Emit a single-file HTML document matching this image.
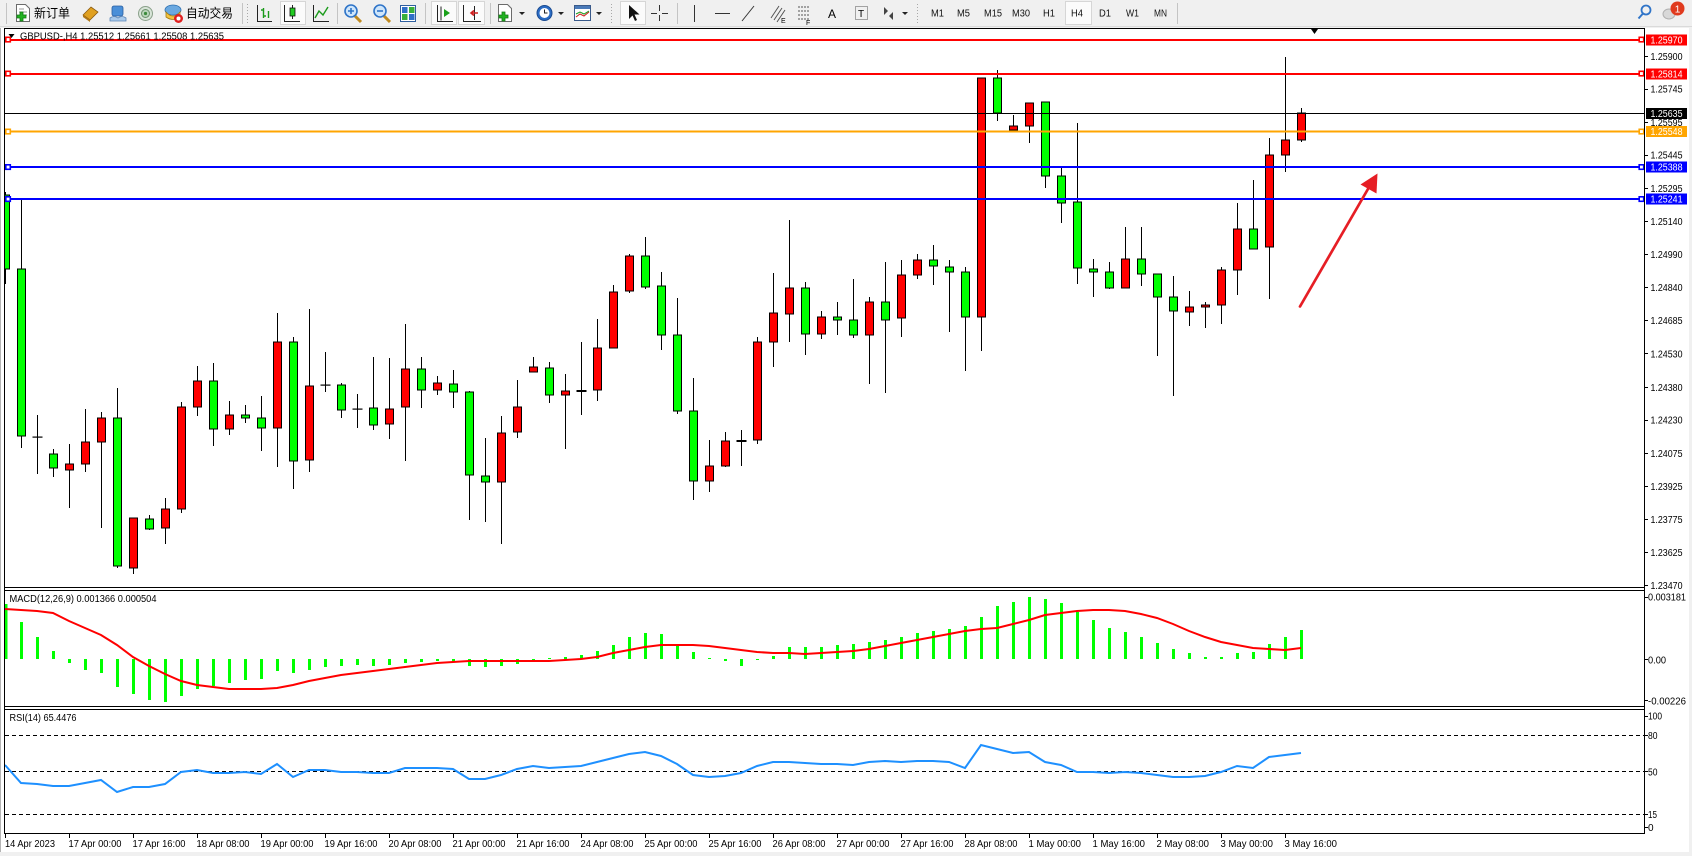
<!DOCTYPE html>
<html><head><meta charset="utf-8">
<style>
html,body{margin:0;padding:0;background:#f0f0f0;overflow:hidden;}
svg{display:block;}
text{font-family:"Liberation Sans","Noto Sans CJK SC",sans-serif;}
</style></head><body>
<svg width="1692" height="856" viewBox="0 0 1692 856" xmlns="http://www.w3.org/2000/svg">
<rect width="1692" height="856" fill="#f0f0f0"/>

<!-- ============ TOOLBAR ============ -->
<line x1="0" y1="26.5" x2="1692" y2="26.5" stroke="#dadada"/>
<g stroke="#c4c4c4">
<line x1="6.5" y1="3" x2="6.5" y2="24"/>
<line x1="242.5" y1="3" x2="242.5" y2="24"/>
<line x1="337.5" y1="3" x2="337.5" y2="24"/>
<line x1="425.5" y1="3" x2="425.5" y2="24"/>
<line x1="490.5" y1="3" x2="490.5" y2="24"/>
<line x1="677.5" y1="3" x2="677.5" y2="24"/>
<line x1="1177.5" y1="3" x2="1177.5" y2="24"/>
</g>
<g stroke="#a8a8a8" stroke-dasharray="1 2">
<line x1="247.5" y1="4" x2="247.5" y2="24"/>
<line x1="611.5" y1="4" x2="611.5" y2="24"/>
<line x1="917.5" y1="4" x2="917.5" y2="24"/>
</g>
<!-- pressed buttons -->
<g fill="#fbfbfb" stroke="#d6d6d6">
<rect x="280.5" y="1.5" width="25" height="23"/>
<rect x="431.5" y="1.5" width="25" height="23"/>
<rect x="458.5" y="1.5" width="26" height="23"/>
<rect x="620.5" y="1.5" width="25" height="23"/>
<rect x="1065.5" y="1.5" width="26" height="23"/>
</g>
<!-- new order -->
<path d="M16.5 4.5h9l4 4v13h-13z" fill="#fff" stroke="#6b6b6b"/>
<path d="M19 9h5M19 12h8M19 15h8" stroke="#9a9a9a"/>
<path d="M17 15h3v-3h3v3h3v3h-3v3h-3v-3h-3z" fill="#22b322" stroke="#157a15" stroke-width=".8"/>
<text x="34" y="17.5" font-size="12.5" textLength="36" lengthAdjust="spacingAndGlyphs">新订单</text>
<!-- gold -->
<path d="M83 15l8-8 7 5-8 8z" fill="#e0a020" stroke="#8a5a10" stroke-width=".8"/>
<path d="M83 15l7 5v2l-7-5z" fill="#b07818"/>
<!-- people/db -->
<rect x="112" y="6" width="11" height="10" rx="2" fill="#4a8fd8" stroke="#2b5fa0" stroke-width=".8"/>
<path d="M110 18q4-3 8 0q4-3 8 0v3h-16z" fill="#a9c9ea" stroke="#5b86b8" stroke-width=".8"/>
<!-- signals -->
<circle cx="145.5" cy="13.5" r="7" fill="#d8e4d8" stroke="#8aa08a"/>
<circle cx="145.5" cy="13.5" r="4" fill="#b8d4b8" stroke="#6b906b"/>
<circle cx="145.5" cy="13.5" r="1.6" fill="#3a8a3a"/>
<!-- auto trading -->
<ellipse cx="173" cy="10" rx="8" ry="5" fill="#6aa8e0" stroke="#2d6fb0" stroke-width=".8"/>
<path d="M166 12q7 8 14 0v5q-7 5-14 0z" fill="#f4c340" stroke="#a67c10" stroke-width=".8"/>
<circle cx="178.5" cy="18.5" r="4.5" fill="#e02020"/>
<circle cx="178.5" cy="18.5" r="2" fill="#fff"/>
<text x="186" y="17.5" font-size="12.5" textLength="47" lengthAdjust="spacingAndGlyphs">自动交易</text>
<!-- bar chart -->
<path d="M257.5 5v16.5H272" stroke="#222" fill="none"/>
<path d="M263.5 8v10M261 10h2.5M263.5 16h2.5M268.5 11v7" stroke="#1a9a1a" stroke-width="1.4" fill="none"/>
<!-- candle -->
<path d="M284.5 5v16.5H300" stroke="#222" fill="none"/>
<path d="M292.5 5v14" stroke="#222"/>
<rect x="290" y="8" width="5" height="8" fill="#22cc22" stroke="#111" stroke-width=".8"/>
<!-- line chart -->
<path d="M313.5 5v16.5H329" stroke="#222" fill="none"/>
<path d="M315 18l4-7 4 4 5-8" stroke="#1a9a1a" stroke-width="1.4" fill="none"/>
<!-- zoom in/out -->
<g>
<path d="M355 16l6 6" stroke="#c08a20" stroke-width="3"/>
<circle cx="351" cy="11" r="6" fill="#cfe6fb" stroke="#2f74c8" stroke-width="1.6"/>
<path d="M348 11h6M351 8v6" stroke="#2f74c8" stroke-width="1.6"/>
<path d="M384 16l6 6" stroke="#c08a20" stroke-width="3"/>
<circle cx="380" cy="11" r="6" fill="#cfe6fb" stroke="#2f74c8" stroke-width="1.6"/>
<path d="M377 11h6" stroke="#2f74c8" stroke-width="1.6"/>
</g>
<!-- tile -->
<rect x="400.5" y="5.5" width="15" height="16" fill="#fff" stroke="#2f5fa0"/>
<rect x="402" y="7" width="5.5" height="6" fill="#2f6fc8"/><rect x="409" y="7" width="5.5" height="6" fill="#3ab03a"/>
<rect x="402" y="14" width="5.5" height="6" fill="#3ab03a"/><rect x="409" y="14" width="5.5" height="6" fill="#2f6fc8"/>
<!-- autoscroll -->
<path d="M437.5 5v16.5H453" stroke="#222" fill="none"/>
<path d="M441 6.5v14" stroke="#222"/>
<path d="M444 9l6 4-6 4z" fill="#1aa01a"/>
<!-- chart shift -->
<path d="M463.5 5v16.5H481" stroke="#222" fill="none"/>
<path d="M474.5 6v14" stroke="#222"/>
<path d="M478 13h-6M474 10.5l-3 2.5 3 2.5" stroke="#d02020" stroke-width="1.6" fill="none"/>
<!-- indicators -->
<path d="M498.5 4.5h9l4 4v13h-13z" fill="#fff" stroke="#6b6b6b"/>
<path d="M499 15h3v-3h3v3h3v3h-3v3h-3v-3h-3z" fill="#22b322" stroke="#157a15" stroke-width=".8"/>
<path d="M519 12h6l-3 3z" fill="#222"/>
<!-- clock -->
<circle cx="544.5" cy="13" r="7.5" fill="#2b6cc4" stroke="#1a4a90"/>
<circle cx="544.5" cy="13" r="5" fill="#fff"/>
<path d="M544.5 9.5v3.5h3" stroke="#222" fill="none"/>
<path d="M558 12h6l-3 3z" fill="#222"/>
<!-- template -->
<rect x="574.5" y="5.5" width="16" height="15" fill="#fff" stroke="#3a5a8a"/>
<rect x="575" y="6" width="15" height="3" fill="#4a7ab8"/>
<path d="M576 17l4-3 4 2 5-4" stroke="#d02020" fill="none"/>
<path d="M576 14l4-2 4 2 5-3" stroke="#1a9a1a" fill="none"/>
<path d="M596 12h6l-3 3z" fill="#222"/>
<path d="M600 12h-0" stroke="none"/>
<!-- cursor -->
<path d="M629 5v14l3.5-3.5 2.5 5.5 2-1-2.5-5.5h5z" fill="#111"/>
<!-- crosshair -->
<path d="M659.5 5v6M659.5 15v6M651 13.5h6M662 13.5h6" stroke="#333"/>
<!-- vertical / horizontal / trend -->
<path d="M694.5 5v17" stroke="#333"/>
<path d="M715 13.5h15" stroke="#333"/>
<path d="M742 21l12-15" stroke="#333"/>
<!-- fib channel -->
<path d="M771 18l8-12M774 20l8-12M777 22l8-12" stroke="#555"/>
<text x="781" y="23" font-size="7">E</text>
<!-- fib levels -->
<path d="M798 7h12M798 11h12M798 15h12M798 19h12" stroke="#555" stroke-dasharray="2 1"/>
<text x="806" y="25" font-size="7">F</text>
<!-- A -->
<text x="828" y="18" font-size="12">A</text>
<!-- T label -->
<rect x="855.5" y="6.5" width="12" height="13" fill="none" stroke="#555" stroke-dasharray="1 1"/>
<text x="858" y="17" font-size="10">T</text>
<!-- arrows -->
<path d="M884 7l4 4-4 4zM893 12l-4 4 4 4z" fill="#444"/>
<path d="M902 12h6l-3 3z" fill="#222"/>
<!-- timeframes -->
<g font-size="10" fill="#111">
<text x="931" y="16.5" textLength="13" lengthAdjust="spacingAndGlyphs">M1</text>
<text x="957" y="16.5" textLength="13" lengthAdjust="spacingAndGlyphs">M5</text>
<text x="984" y="16.5" textLength="18" lengthAdjust="spacingAndGlyphs">M15</text>
<text x="1012" y="16.5" textLength="18" lengthAdjust="spacingAndGlyphs">M30</text>
<text x="1043" y="16.5" textLength="12" lengthAdjust="spacingAndGlyphs">H1</text>
<text x="1071" y="16.5" textLength="12" lengthAdjust="spacingAndGlyphs">H4</text>
<text x="1099" y="16.5" textLength="12" lengthAdjust="spacingAndGlyphs">D1</text>
<text x="1126" y="16.5" textLength="13" lengthAdjust="spacingAndGlyphs">W1</text>
<text x="1154" y="16.5" textLength="13" lengthAdjust="spacingAndGlyphs">MN</text>
</g>
<!-- search & notification -->
<circle cx="1646" cy="10" r="4.5" fill="none" stroke="#2f74c8" stroke-width="1.8"/>
<path d="M1643 13.5l-4.5 5" stroke="#2f74c8" stroke-width="2"/>
<ellipse cx="1669" cy="14" rx="6" ry="5" fill="#d8d8d8" stroke="#b0b0b0"/>
<circle cx="1677.5" cy="8.5" r="7" fill="#e03a1e"/>
<text x="1674.8" y="12.5" font-size="10" fill="#fff">1</text>

<!-- ============ CHART WINDOW ============ -->
<rect x="0" y="28" width="1689" height="824" fill="#fff"/>
<line x1="0.5" y1="28" x2="0.5" y2="852" stroke="#b4b4b4"/>

<!-- RSI dashed levels -->
<g stroke="#000" stroke-dasharray="4 3">
<line x1="5" y1="735.5" x2="1644" y2="735.5"/>
<line x1="5" y1="771.5" x2="1644" y2="771.5"/>
<line x1="5" y1="814.5" x2="1644" y2="814.5"/>
</g>

<!-- candles -->
<defs><clipPath id="main"><rect x="5" y="29" width="1639" height="558"/></clipPath></defs>
<g clip-path="url(#main)">
<path stroke="#000" stroke-width="1" fill="none" d="M5.5 192V284M21.5 198V448M37.5 415V474M53.5 449V477M69.5 444V508M85.5 409V472M101.5 412V528M117.5 388V568M133.5 518V574M149.5 515V530M165.5 498V544M181.5 402V513M197.5 366V416M213.5 363V446M229.5 401V435M245.5 405V423M261.5 396V451M277.5 313V467M293.5 337V489M309.5 309V472M325.5 352V392M341.5 383V418M357.5 394V428M373.5 357V430M389.5 358V439M405.5 324V461M421.5 357V408M437.5 376V395M453.5 370V408M469.5 391V520M485.5 438V522M501.5 416V544M517.5 380V438M533.5 357V372M549.5 362V403M565.5 374V449M581.5 342V415M597.5 319V401M613.5 285V348M629.5 254V293M645.5 237V289M661.5 272V350M677.5 298V414M693.5 378V500M709.5 440V492M725.5 432V467M741.5 430V466M757.5 337V444M773.5 273V367M789.5 220V342M805.5 282V355M821.5 311V339M837.5 302V335M853.5 279V338M869.5 297V384M885.5 262V393M901.5 260V337M917.5 254V279M933.5 245V285M949.5 260V332M965.5 267V371M981.5 78V351M997.5 70V121M1013.5 115V130M1029.5 103V143M1045.5 102V188M1061.5 168V223M1077.5 123V284M1093.5 259V297M1109.5 262V289M1125.5 227V288M1141.5 227V286M1157.5 274V356M1173.5 276V396M1189.5 291V326M1205.5 302V328M1221.5 267V324M1237.5 203V295M1253.5 180V249M1269.5 138V299M1285.5 57V172M1301.5 108V142"/>
<g fill="#00ff00" stroke="#000" stroke-width="1">
<rect x="1.5" y="195" width="8" height="74"/>
<rect x="17.5" y="269" width="8" height="167"/>
<rect x="49.5" y="454" width="8" height="14"/>
<rect x="113.5" y="418" width="8" height="148"/>
<rect x="145.5" y="519" width="8" height="10"/>
<rect x="209.5" y="381" width="8" height="48"/>
<rect x="241.5" y="415" width="8" height="3"/>
<rect x="257.5" y="418" width="8" height="10"/>
<rect x="289.5" y="342" width="8" height="119"/>
<rect x="337.5" y="385" width="8" height="25"/>
<rect x="369.5" y="408" width="8" height="17"/>
<rect x="417.5" y="369" width="8" height="21"/>
<rect x="449.5" y="384" width="8" height="8"/>
<rect x="465.5" y="392" width="8" height="83"/>
<rect x="481.5" y="476" width="8" height="6"/>
<rect x="545.5" y="368" width="8" height="27"/>
<rect x="641.5" y="256" width="8" height="31"/>
<rect x="657.5" y="286" width="8" height="49"/>
<rect x="673.5" y="335" width="8" height="76"/>
<rect x="689.5" y="411" width="8" height="70"/>
<rect x="801.5" y="288" width="8" height="46"/>
<rect x="833.5" y="317" width="8" height="3"/>
<rect x="849.5" y="320" width="8" height="15"/>
<rect x="881.5" y="302" width="8" height="18"/>
<rect x="929.5" y="260" width="8" height="6"/>
<rect x="945.5" y="267" width="8" height="5"/>
<rect x="961.5" y="272" width="8" height="45"/>
<rect x="993.5" y="78" width="8" height="35"/>
<rect x="1041.5" y="102" width="8" height="74"/>
<rect x="1057.5" y="176" width="8" height="27"/>
<rect x="1073.5" y="202" width="8" height="66"/>
<rect x="1089.5" y="269" width="8" height="3"/>
<rect x="1105.5" y="272" width="8" height="16"/>
<rect x="1137.5" y="259" width="8" height="15"/>
<rect x="1153.5" y="274" width="8" height="23"/>
<rect x="1169.5" y="297" width="8" height="14"/>
<rect x="1249.5" y="229" width="8" height="20"/>
</g>
<g fill="#ff0000" stroke="#000" stroke-width="1">
<rect x="65.5" y="464" width="8" height="6"/>
<rect x="81.5" y="442" width="8" height="22"/>
<rect x="97.5" y="418" width="8" height="24"/>
<rect x="129.5" y="518" width="8" height="50"/>
<rect x="161.5" y="509" width="8" height="19"/>
<rect x="177.5" y="407" width="8" height="102"/>
<rect x="193.5" y="381" width="8" height="26"/>
<rect x="225.5" y="415" width="8" height="14"/>
<rect x="273.5" y="342" width="8" height="86"/>
<rect x="305.5" y="386" width="8" height="74"/>
<rect x="385.5" y="409" width="8" height="15"/>
<rect x="401.5" y="369" width="8" height="38"/>
<rect x="433.5" y="383" width="8" height="7"/>
<rect x="497.5" y="433" width="8" height="49"/>
<rect x="513.5" y="407" width="8" height="25"/>
<rect x="529.5" y="367" width="8" height="5"/>
<rect x="561.5" y="391" width="8" height="4"/>
<rect x="593.5" y="348" width="8" height="42"/>
<rect x="609.5" y="292" width="8" height="56"/>
<rect x="625.5" y="256" width="8" height="35"/>
<rect x="705.5" y="466" width="8" height="15"/>
<rect x="721.5" y="441" width="8" height="25"/>
<rect x="753.5" y="342" width="8" height="98"/>
<rect x="769.5" y="313" width="8" height="29"/>
<rect x="785.5" y="288" width="8" height="26"/>
<rect x="817.5" y="317" width="8" height="17"/>
<rect x="865.5" y="302" width="8" height="33"/>
<rect x="897.5" y="275" width="8" height="43"/>
<rect x="913.5" y="260" width="8" height="15"/>
<rect x="977.5" y="78" width="8" height="239"/>
<rect x="1009.5" y="126" width="8" height="4"/>
<rect x="1025.5" y="103" width="8" height="23"/>
<rect x="1121.5" y="259" width="8" height="29"/>
<rect x="1185.5" y="307" width="8" height="5"/>
<rect x="1201.5" y="305" width="8" height="2"/>
<rect x="1217.5" y="270" width="8" height="35"/>
<rect x="1233.5" y="229" width="8" height="41"/>
<rect x="1265.5" y="155" width="8" height="92"/>
<rect x="1281.5" y="140" width="8" height="15"/>
<rect x="1297.5" y="113" width="8" height="27"/>
</g>
<g fill="#000">
<rect x="32.5" y="436.5" width="10" height="1.2"/>
<rect x="320.5" y="384.5" width="10" height="1.2"/>
<rect x="352.5" y="408.5" width="10" height="1.2"/>
<rect x="576.5" y="390" width="10" height="2"/>
<rect x="736.5" y="440" width="10" height="2"/>
</g>
</g>

<!-- horizontal lines -->
<line x1="5" y1="113.5" x2="1644" y2="113.5" stroke="#000" stroke-width="1"/>
<line x1="5" y1="40" x2="1644" y2="40" stroke="#ff0000" stroke-width="2"/>
<line x1="5" y1="74" x2="1644" y2="74" stroke="#ff0000" stroke-width="2"/>
<line x1="5" y1="131.5" x2="1644" y2="131.5" stroke="#ffa500" stroke-width="2"/>
<line x1="5" y1="167" x2="1644" y2="167" stroke="#0000ff" stroke-width="2"/>
<line x1="5" y1="199" x2="1644" y2="199" stroke="#0000ff" stroke-width="2"/>
<g fill="#fff" stroke-width="1.6">
<rect x="5.8" y="37.3" width="4.5" height="4.5" stroke="#ff0000"/>
<rect x="1639.2" y="37.3" width="4.5" height="4.5" stroke="#ff0000"/>
<rect x="5.8" y="71.3" width="4.5" height="4.5" stroke="#ff0000"/>
<rect x="1639.2" y="71.3" width="4.5" height="4.5" stroke="#ff0000"/>
<rect x="5.8" y="129.3" width="4.5" height="4.5" stroke="#ffa500"/>
<rect x="1639.2" y="129.3" width="4.5" height="4.5" stroke="#ffa500"/>
<rect x="5.8" y="164.8" width="4.5" height="4.5" stroke="#0000ff"/>
<rect x="1639.2" y="164.8" width="4.5" height="4.5" stroke="#0000ff"/>
<rect x="5.8" y="196.8" width="4.5" height="4.5" stroke="#0000ff"/>
<rect x="1639.2" y="196.8" width="4.5" height="4.5" stroke="#0000ff"/>
</g>

<!-- arrow -->
<line x1="1300" y1="306.5" x2="1370" y2="185.5" stroke="#e61e25" stroke-width="2.7" stroke-linecap="round"/>
<polygon points="1377.5,173.5 1360.5,184.5 1376.5,193.5" fill="#e61e25"/>

<!-- shift marker & title -->
<polygon points="1311,29 1318,29 1314.5,34" fill="#000"/>
<polygon points="8.5,34 14.5,34 11.5,38" fill="#000"/>
<text x="20" y="39.5" font-size="10" fill="#000" textLength="204" lengthAdjust="spacingAndGlyphs">GBPUSD-,H4  1.25512 1.25661 1.25508 1.25635</text>

<!-- MACD -->
<g fill="#00ff00">
<rect x="4.5" y="604" width="3" height="55"/>
<rect x="20" y="622" width="3" height="37"/>
<rect x="36" y="637" width="3" height="22"/>
<rect x="52" y="651" width="3" height="8"/>
<rect x="68" y="659" width="3" height="4"/>
<rect x="84" y="659" width="3" height="11"/>
<rect x="100" y="659" width="3" height="14"/>
<rect x="116" y="659" width="3" height="28"/>
<rect x="132" y="659" width="3" height="35"/>
<rect x="148" y="659" width="3" height="41"/>
<rect x="164" y="659" width="3" height="43"/>
<rect x="180" y="659" width="3" height="37"/>
<rect x="196" y="659" width="3" height="30"/>
<rect x="212" y="659" width="3" height="27"/>
<rect x="228" y="659" width="3" height="24"/>
<rect x="244" y="659" width="3" height="21"/>
<rect x="260" y="659" width="3" height="20"/>
<rect x="276" y="659" width="3" height="12"/>
<rect x="292" y="659" width="3" height="14"/>
<rect x="308" y="659" width="3" height="11"/>
<rect x="324" y="659" width="3" height="8"/>
<rect x="340" y="659" width="3" height="7"/>
<rect x="356" y="659" width="3" height="6"/>
<rect x="372" y="659" width="3" height="7"/>
<rect x="388" y="659" width="3" height="6"/>
<rect x="404" y="659" width="3" height="4"/>
<rect x="420" y="659" width="3" height="3"/>
<rect x="436" y="659" width="3" height="2"/>
<rect x="452" y="659" width="3" height="3"/>
<rect x="468" y="659" width="3" height="7"/>
<rect x="484" y="659" width="3" height="8"/>
<rect x="500" y="659" width="3" height="7"/>
<rect x="516" y="659" width="3" height="5"/>
<rect x="532" y="659" width="3" height="2"/>
<rect x="548" y="658" width="3" height="1"/>
<rect x="564" y="657" width="3" height="2"/>
<rect x="580" y="655" width="3" height="4"/>
<rect x="596" y="651" width="3" height="8"/>
<rect x="612" y="645" width="3" height="14"/>
<rect x="628" y="637" width="3" height="22"/>
<rect x="644" y="633" width="3" height="26"/>
<rect x="660" y="634" width="3" height="25"/>
<rect x="676" y="645" width="3" height="14"/>
<rect x="692" y="652" width="3" height="7"/>
<rect x="708" y="658" width="3" height="1"/>
<rect x="724" y="659" width="3" height="2"/>
<rect x="740" y="659" width="3" height="7"/>
<rect x="756" y="659" width="3" height="1"/>
<rect x="772" y="656" width="3" height="3"/>
<rect x="788" y="647" width="3" height="12"/>
<rect x="804" y="647" width="3" height="12"/>
<rect x="820" y="647" width="3" height="12"/>
<rect x="836" y="645" width="3" height="14"/>
<rect x="852" y="644" width="3" height="15"/>
<rect x="868" y="642" width="3" height="17"/>
<rect x="884" y="640" width="3" height="19"/>
<rect x="900" y="637" width="3" height="22"/>
<rect x="916" y="633" width="3" height="26"/>
<rect x="932" y="631" width="3" height="28"/>
<rect x="948" y="629" width="3" height="30"/>
<rect x="964" y="626" width="3" height="33"/>
<rect x="980" y="617" width="3" height="42"/>
<rect x="996" y="606" width="3" height="53"/>
<rect x="1012" y="602" width="3" height="57"/>
<rect x="1028" y="597" width="3" height="62"/>
<rect x="1044" y="599" width="3" height="60"/>
<rect x="1060" y="603" width="3" height="56"/>
<rect x="1076" y="612" width="3" height="47"/>
<rect x="1092" y="620" width="3" height="39"/>
<rect x="1108" y="628" width="3" height="31"/>
<rect x="1124" y="632" width="3" height="27"/>
<rect x="1140" y="637" width="3" height="22"/>
<rect x="1156" y="643" width="3" height="16"/>
<rect x="1172" y="649" width="3" height="10"/>
<rect x="1188" y="653" width="3" height="6"/>
<rect x="1204" y="657" width="3" height="2"/>
<rect x="1220" y="657" width="3" height="2"/>
<rect x="1236" y="653" width="3" height="6"/>
<rect x="1252" y="652" width="3" height="7"/>
<rect x="1268" y="644" width="3" height="15"/>
<rect x="1284" y="637" width="3" height="22"/>
<rect x="1300" y="630" width="3" height="29"/>
</g>
<polyline fill="none" stroke="#ff0000" stroke-width="2" points="5,609 21,610 37,611 53,613 69,621 85,628 101,635 117,645 133,657 149,666 165,674 181,681 197,685 213,687 229,689 245,689 261,689 277,688 293,685 309,681 325,678 341,675 357,673 373,671 389,669 405,667 421,665 437,663 453,662 469,661 485,661 501,661 517,661 533,661 549,661 565,660 581,659 597,657 613,653 629,650 645,647 661,645 677,645 693,645 709,646 725,648 741,650 757,652 773,653 789,653 805,654 821,653 837,652 853,651 869,649 885,646 901,643 917,640 933,637 949,634 965,631 981,629 997,628 1013,624 1029,620 1045,615 1061,613 1077,611 1093,610 1109,610 1125,611 1141,614 1157,618 1173,624 1189,631 1205,637 1221,642 1237,645 1253,648 1269,649 1285,650 1301,648"/>
<text x="9.5" y="602" font-size="10" textLength="147" lengthAdjust="spacingAndGlyphs">MACD(12,26,9) 0.001366 0.000504</text>

<!-- RSI -->
<polyline fill="none" stroke="#1e90ff" stroke-width="2" points="5,765 21,783 37,784 53,786 69,786 85,783 101,780 117,792 133,787 149,787 165,784 181,772 197,770 213,773 229,773 245,772 261,774 277,764 293,777 309,770 325,770 341,772 357,772 373,773 389,773 405,768 421,768 437,768 453,769 469,779 485,779 501,775 517,769 533,766 549,768 565,767 581,766 597,762 613,758 629,754 645,752 661,756 677,764 693,775 709,777 725,776 741,773 757,766 773,762 789,762 805,763 821,764 837,764 853,765 869,762 885,761 901,762 917,761 933,761 949,762 965,768 981,745 997,749 1013,753 1029,752 1045,762 1061,765 1077,772 1093,772 1109,773 1125,772 1141,773 1157,775 1173,777 1189,777 1205,776 1221,772 1237,766 1253,768 1269,757 1285,755 1301,753"/>
<text x="9.5" y="721" font-size="10" textLength="67" lengthAdjust="spacingAndGlyphs">RSI(14) 65.4476</text>

<!-- frame lines -->
<g stroke="#000" stroke-width="1" fill="none">
<line x1="4" y1="28.5" x2="1645" y2="28.5"/>
<line x1="4.5" y1="28" x2="4.5" y2="834"/>
<line x1="1644.5" y1="28" x2="1644.5" y2="834"/>
<line x1="4" y1="587.5" x2="1645" y2="587.5"/>
<line x1="4" y1="590.5" x2="1645" y2="590.5"/>
<line x1="4" y1="706.5" x2="1645" y2="706.5"/>
<line x1="4" y1="709.5" x2="1645" y2="709.5"/>
<line x1="4" y1="833.5" x2="1645" y2="833.5"/>
</g>

<!-- price axis ticks -->
<path stroke="#000" d="M1644 56.5h4M1644 89.5h4M1644 122.5h4M1644 155.5h4M1644 188.5h4M1644 221.5h4M1644 254.5h4M1644 287.5h4M1644 320.5h4M1644 353.5h4M1644 387.5h4M1644 420.5h4M1644 453.5h4M1644 486.5h4M1644 519.5h4M1644 552.5h4M1644 585.5h4M1644 597.5h4M1644 659.5h4M1644 700.5h4M1644 716.5h4M1644 735.5h4M1644 771.5h4M1644 814.5h4M1644 827.5h4"/>
<g font-size="10" fill="#000">
<text x="1650.5" y="60" textLength="32" lengthAdjust="spacingAndGlyphs">1.25900</text>
<text x="1650.5" y="92.5" textLength="32" lengthAdjust="spacingAndGlyphs">1.25745</text>
<text x="1650.5" y="126" textLength="32" lengthAdjust="spacingAndGlyphs">1.25595</text>
<text x="1650.5" y="158.5" textLength="32" lengthAdjust="spacingAndGlyphs">1.25445</text>
<text x="1650.5" y="192" textLength="32" lengthAdjust="spacingAndGlyphs">1.25295</text>
<text x="1650.5" y="225" textLength="32" lengthAdjust="spacingAndGlyphs">1.25140</text>
<text x="1650.5" y="258" textLength="32" lengthAdjust="spacingAndGlyphs">1.24990</text>
<text x="1650.5" y="291" textLength="32" lengthAdjust="spacingAndGlyphs">1.24840</text>
<text x="1650.5" y="324" textLength="32" lengthAdjust="spacingAndGlyphs">1.24685</text>
<text x="1650.5" y="357.5" textLength="32" lengthAdjust="spacingAndGlyphs">1.24530</text>
<text x="1650.5" y="391" textLength="32" lengthAdjust="spacingAndGlyphs">1.24380</text>
<text x="1650.5" y="423.5" textLength="32" lengthAdjust="spacingAndGlyphs">1.24230</text>
<text x="1650.5" y="457" textLength="32" lengthAdjust="spacingAndGlyphs">1.24075</text>
<text x="1650.5" y="490" textLength="32" lengthAdjust="spacingAndGlyphs">1.23925</text>
<text x="1650.5" y="523" textLength="32" lengthAdjust="spacingAndGlyphs">1.23775</text>
<text x="1650.5" y="556" textLength="32" lengthAdjust="spacingAndGlyphs">1.23625</text>
<text x="1650.5" y="589" textLength="32" lengthAdjust="spacingAndGlyphs">1.23470</text>
<text x="1648" y="600.5" textLength="38" lengthAdjust="spacingAndGlyphs">0.003181</text>
<text x="1648" y="663.5" textLength="18" lengthAdjust="spacingAndGlyphs">0.00</text>
<text x="1648" y="704.5" textLength="38" lengthAdjust="spacingAndGlyphs">-0.00226</text>
<text x="1648" y="719.5" textLength="14" lengthAdjust="spacingAndGlyphs">100</text>
<text x="1648" y="739" textLength="9.5" lengthAdjust="spacingAndGlyphs">80</text>
<text x="1648" y="775.5" textLength="9.5" lengthAdjust="spacingAndGlyphs">50</text>
<text x="1648" y="818" textLength="9" lengthAdjust="spacingAndGlyphs">15</text>
<text x="1648" y="831" font-size="10">0</text>
</g>
<!-- price boxes -->
<rect x="1646" y="34.5" width="41" height="11" fill="#ff0000"/>
<rect x="1646" y="68.5" width="41" height="11" fill="#ff0000"/>
<rect x="1646" y="108" width="41" height="11" fill="#000"/>
<rect x="1646" y="126" width="41" height="11" fill="#ffa500"/>
<rect x="1646" y="161.5" width="41" height="11" fill="#0000ff"/>
<rect x="1646" y="193.5" width="41" height="11" fill="#0000ff"/>
<g font-size="10" fill="#fff">
<text x="1650.5" y="43.5" textLength="32" lengthAdjust="spacingAndGlyphs">1.25970</text>
<text x="1650.5" y="77.5" textLength="32" lengthAdjust="spacingAndGlyphs">1.25814</text>
<text x="1650.5" y="117" textLength="32" lengthAdjust="spacingAndGlyphs">1.25635</text>
<text x="1650.5" y="135" textLength="32" lengthAdjust="spacingAndGlyphs">1.25548</text>
<text x="1650.5" y="170.5" textLength="32" lengthAdjust="spacingAndGlyphs">1.25388</text>
<text x="1650.5" y="202.5" textLength="32" lengthAdjust="spacingAndGlyphs">1.25241</text>
</g>

<!-- time axis -->
<path stroke="#000" d="M5.5 833v5M69.5 833v5M133.5 833v5M197.5 833v5M261.5 833v5M325.5 833v5M389.5 833v5M453.5 833v5M517.5 833v5M581.5 833v5M645.5 833v5M709.5 833v5M773.5 833v5M837.5 833v5M901.5 833v5M965.5 833v5M1029.5 833v5M1093.5 833v5M1157.5 833v5M1221.5 833v5M1285.5 833v5"/>
<g font-size="10.5" fill="#000">
<text x="5" y="847" textLength="50" lengthAdjust="spacingAndGlyphs">14 Apr 2023</text>
<text x="68.5" y="847" textLength="53" lengthAdjust="spacingAndGlyphs">17 Apr 00:00</text>
<text x="132.5" y="847" textLength="53" lengthAdjust="spacingAndGlyphs">17 Apr 16:00</text>
<text x="196.5" y="847" textLength="53" lengthAdjust="spacingAndGlyphs">18 Apr 08:00</text>
<text x="260.5" y="847" textLength="53" lengthAdjust="spacingAndGlyphs">19 Apr 00:00</text>
<text x="324.5" y="847" textLength="53" lengthAdjust="spacingAndGlyphs">19 Apr 16:00</text>
<text x="388.5" y="847" textLength="53" lengthAdjust="spacingAndGlyphs">20 Apr 08:00</text>
<text x="452.5" y="847" textLength="53" lengthAdjust="spacingAndGlyphs">21 Apr 00:00</text>
<text x="516.5" y="847" textLength="53" lengthAdjust="spacingAndGlyphs">21 Apr 16:00</text>
<text x="580.5" y="847" textLength="53" lengthAdjust="spacingAndGlyphs">24 Apr 08:00</text>
<text x="644.5" y="847" textLength="53" lengthAdjust="spacingAndGlyphs">25 Apr 00:00</text>
<text x="708.5" y="847" textLength="53" lengthAdjust="spacingAndGlyphs">25 Apr 16:00</text>
<text x="772.5" y="847" textLength="53" lengthAdjust="spacingAndGlyphs">26 Apr 08:00</text>
<text x="836.5" y="847" textLength="53" lengthAdjust="spacingAndGlyphs">27 Apr 00:00</text>
<text x="900.5" y="847" textLength="53" lengthAdjust="spacingAndGlyphs">27 Apr 16:00</text>
<text x="964.5" y="847" textLength="53" lengthAdjust="spacingAndGlyphs">28 Apr 08:00</text>
<text x="1028.5" y="847" textLength="52.5" lengthAdjust="spacingAndGlyphs">1 May 00:00</text>
<text x="1092.5" y="847" textLength="52.5" lengthAdjust="spacingAndGlyphs">1 May 16:00</text>
<text x="1156.5" y="847" textLength="52.5" lengthAdjust="spacingAndGlyphs">2 May 08:00</text>
<text x="1220.5" y="847" textLength="52.5" lengthAdjust="spacingAndGlyphs">3 May 00:00</text>
<text x="1284.5" y="847" textLength="52.5" lengthAdjust="spacingAndGlyphs">3 May 16:00</text>
</g>
</svg>
</body></html>
